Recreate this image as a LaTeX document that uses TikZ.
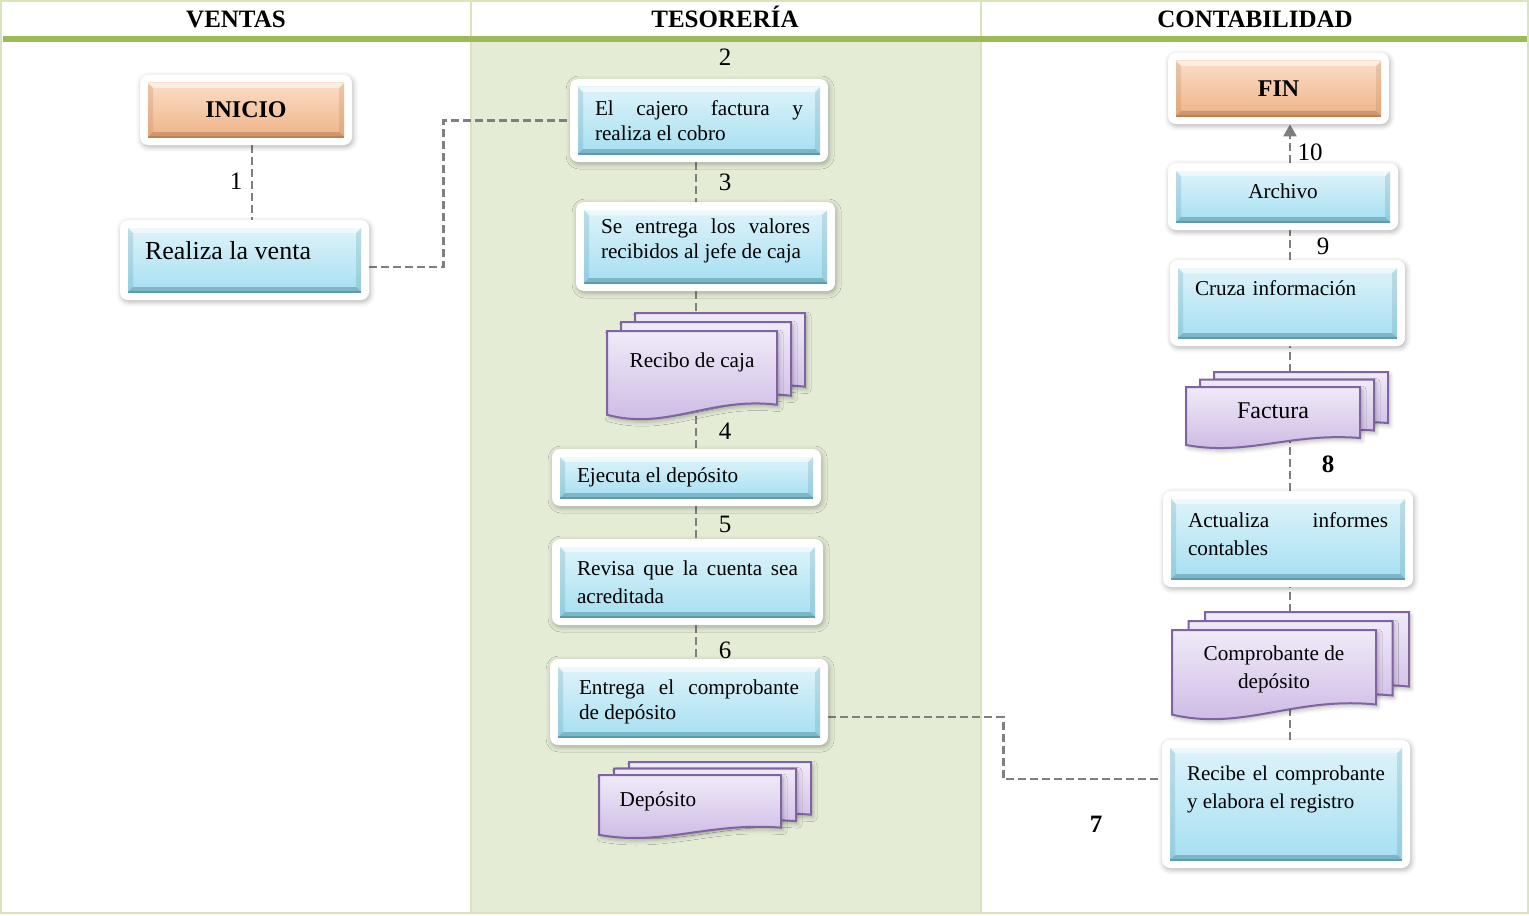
\documentclass[tikz,border=0pt]{standalone}
\usepackage{fontspec}
\setmainfont{Liberation Serif}
\usetikzlibrary{calc, arrows.meta, shadows.blur}

\definecolor{lanegreen}{HTML}{9BBB59}
\definecolor{laneline}{HTML}{D8E4BC}
\definecolor{lanefill}{HTML}{E4ECD6}
\definecolor{procTop}{HTML}{DDF3FA}
\definecolor{procBot}{HTML}{A6DFF1}
\definecolor{procEdge}{HTML}{5E9BAE}
\definecolor{termTop}{HTML}{FADDC7}
\definecolor{termBot}{HTML}{EFB488}
\definecolor{termEdge}{HTML}{BC8257}
\definecolor{docTop}{HTML}{F0EAF8}
\definecolor{docBot}{HTML}{CAB6E2}
\definecolor{docEdge}{HTML}{8064A2}
\definecolor{linkgray}{HTML}{7F7F7F}

\pgfdeclarelayer{background}
\pgfsetlayers{background,main}

% no hyphens inside the boxes
\hyphenpenalty=10000
\exhyphenpenalty=10000

% one sheet with a wavy bottom: x, y (top left), width, height
\newcommand\docsheet[4]{%
  \draw [sheet] ({#1},{#2}) -- ({#1+#3},{#2}) -- ({#1+#3},{#2+0.81*#4})
    .. controls ({#1+0.6*#3},{#2+0.72*#4}) and ({#1+0.35*#3},{#2+1.1*#4}) .. ({#1},{#2+0.92*#4}) -- cycle;}

% three sheets stacked: [text options] name, x, y, width, height, dx, dy, text
\newcommand\docstack[9][]{%
  \docsheet{#3+2*#7}{#4-2*#8}{#5}{#6}
  \docsheet{#3+#7}{#4-#8}{#5}{#6}
  \docsheet{#3}{#4}{#5}{#6}
  \node [inner sep=0, minimum width={(#5+2*#7)*0.5pt}, minimum height={(#6+2*#8)*0.5pt}]
    (#2) at ({#3+#5/2+#7},{#4+#6/2-#8}) {};
  \node [doctext, #1] (#2-t) at ({#3+#5/2},{#4+0.35*#6}) {#9};}

\begin{document}
\begin{tikzpicture}[
    x=0.5pt, y=-0.5pt,
    font=\fontsize{10.6}{12.5}\selectfont,
    base/.style={rectangle, rounded corners=4pt, fill=white, inner xsep=12.5pt, inner ysep=4pt,
      blur shadow={shadow xshift=0.6pt, shadow yshift=-1pt, shadow blur radius=2.5pt, shadow opacity=30}},
    bevel/.style n args={3}{path picture={
      \begin{scope}[sharp corners]
        \coordinate (bv-a) at ([shift={(4pt,4pt)}]path picture bounding box.south west);
        \coordinate (bv-b) at ([shift={(-4pt,-4pt)}]path picture bounding box.north east);
        \coordinate (bv-c) at (bv-a -| bv-b);
        \coordinate (bv-d) at (bv-a |- bv-b);
        \shade [top color=#1, bottom color=#2] (bv-a) rectangle (bv-b);
        \fill [#3, opacity=.6] (bv-a) -- (bv-c) -- ([shift={(-2.5pt,2.5pt)}]bv-c) -- ([shift={(2.5pt,2.5pt)}]bv-a) -- cycle;
        \fill [#3, opacity=.25] (bv-a) -- ([shift={(2.5pt,2.5pt)}]bv-a) -- ([shift={(2.5pt,-2.5pt)}]bv-d) -- (bv-d) -- cycle;
        \fill [#3, opacity=.25] (bv-c) -- ([shift={(-2.5pt,2.5pt)}]bv-c) -- ([shift={(-2.5pt,-2.5pt)}]bv-b) -- (bv-b) -- cycle;
        \fill [white, opacity=.5] (bv-d) -- (bv-b) -- ([shift={(-2.5pt,-2.5pt)}]bv-b) -- ([shift={(2.5pt,-2.5pt)}]bv-d) -- cycle;
        \draw [#3, line width=0.6pt] (bv-a) -- (bv-c);
      \end{scope}}},
    proc/.style={base, bevel={procTop}{procBot}{procEdge}, align=justify},
    term/.style={base, bevel={termTop}{termBot}{termEdge}, font=\fontsize{12}{14}\selectfont\bfseries},
    loose/.style={font=\fontsize{10.6}{14}\selectfont},
    lift/.style={execute at end node={\endgraf\kern#1}},
    sheet/.style={draw=docEdge, line width=1pt, top color=docTop, bottom color=docBot,
      blur shadow={shadow xshift=1pt, shadow yshift=-1.5pt, shadow blur radius=2pt, shadow opacity=25}},
    doctext/.style={align=center},
    connector/.style={draw=linkgray, line width=1.3pt, dash pattern=on 4pt off 2pt},
    head/.style={font=\fontsize{12.5}{14}\selectfont\bfseries, text height=8.5pt, text depth=0pt},
    lbl/.style={font=\fontsize{12.5}{14}\selectfont},
    lblb/.style={font=\fontsize{12.5}{14}\selectfont\bfseries}
  ]
  \useasboundingbox (0,0) rectangle (1529,915);

  \node (hventas) [head] at (236,19) {VENTAS};
  \node (htesoreria) [head] at (725,19) {TESORERÍA};
  \node (hconta) [head] at (1255,19) {CONTABILIDAD};

  \coordinate (spineA) at (252,0);
  \coordinate (spineB) at (696,0);
  \coordinate (spineC) at (1290,0);

  % ventas
  \node (inicio) [term, minimum width=106pt, minimum height=35pt] at (246,110) {INICIO};
  \node (venta) [proc, text width=99.5pt, minimum height=40pt, font=\fontsize{13}{15}\selectfont, lift=9pt] at (244.5,260) {Realiza la venta};

  % tesoreria
  \node (cajero) [proc, text width=104pt, minimum height=41.5pt] at (699,120.5) {El cajero factura y realiza el cobro};
  \node (valores) [proc, text width=104.5pt, minimum height=44.5pt, lift=5.5pt] at (705.5,246.5) {Se entrega los valores recibidos al jefe de caja};
  \docstack{recibo}{607}{331}{170}{91}{14}{9}{Recibo de caja}
  \node (ejecuta) [proc, text width=109.5pt, minimum height=28.5pt] at (686.5,477.5) {Ejecuta el depósito};
  \node (revisa) [proc, loose, text width=110.5pt, minimum height=43pt] at (687.5,582) {Revisa que la cuenta sea acreditada};
  \node (entrega) [proc, text width=110pt, minimum width=139pt, minimum height=43pt] at (689,702) {Entrega el comprobante de depósito};
  \docstack[xshift=-16pt, yshift=-2pt]{deposito}{599}{775}{182}{65}{15}{6.5}{Depósito}

  % contabilidad
  \node (fin) [term, minimum width=110.5pt, minimum height=35.5pt] at (1278.5,88.5) {FIN};
  \node (archivo) [proc, align=center, text width=90pt, minimum height=33.5pt, lift=5pt] at (1283,196.5) {Archivo};
  \node (cruza) [proc, align=left, text width=92.5pt, minimum height=43pt, lift=15pt] at (1287.5,303) {Cruza información};
  \docstack[font=\fontsize{12}{14}\selectfont, yshift=-1pt]{factura}{1186}{387}{174}{63}{14}{7.5}{Factura}
  \node (actualiza) [proc, loose, text width=100pt, minimum height=48pt, lift=5pt] at (1288,539) {Actualiza informes contables};
  \docstack[loose, yshift=-3.5pt]{comprobante}{1172}{630}{204}{92}{16.5}{9}{Comprobante de\\depósito}
  \node (recibe) [proc, font=\fontsize{10.5}{14}\selectfont, text width=99pt, minimum height=64pt, lift=14.5pt] at (1286,804) {Recibe el comprobante y elabora el registro};

  % step numbers
  \node (n1) [lbl] at (236,181) {1};
  \node (n2) [lbl] at (725,57) {2};
  \node (n3) [lbl] at (725,182) {3};
  \node (n4) [lbl] at (725,431) {4};
  \node (n5) [lbl] at (725,524) {5};
  \node (n6) [lbl] at (725,650) {6};
  \node (n7) [lblb] at (1096,824) {7};
  \node (n8) [lblb] at (1328,464) {8};
  \node (n9) [lbl] at (1323,246) {9};
  \node (n10) [lbl] at (1310,152) {10};

  % lanes, then connectors on top of them, all behind the boxes
  \begin{pgfonlayer}{background}
    \fill [lanefill] (471,41) rectangle (981,913);
    \draw [laneline, line width=1pt] (1,1) rectangle (1528,913);
    \draw [laneline, line width=1pt] (471,1) -- (471,913) (981,1) -- (981,913);
    \fill [lanegreen] (3,36) rectangle (1527,42);

    \draw [connector] (inicio.south -| spineA) -- (venta.north -| spineA);
    \draw [connector] ([yshift=-3.5pt]venta.east) -- ++(74,0) |- (cajero.west);
    \draw [connector] (cajero.south -| spineB) -- (valores.north -| spineB);
    \draw [connector] (valores.south -| spineB) -- (recibo.north -| spineB);
    \draw [connector] (recibo.center -| spineB) -- (ejecuta.north -| spineB);
    \draw [connector] (ejecuta.south -| spineB) -- (revisa.north -| spineB);
    \draw [connector] (revisa.south -| spineB) -- (entrega.north -| spineB);
    \draw [connector] ([yshift=-7.5pt]entrega.east) -- ++(175,0) |- ([yshift=12.5pt]recibe.west);
    \draw [connector] (recibe.north -| spineC) -- (comprobante.center -| spineC);
    \draw [connector] (comprobante.north -| spineC) -- (actualiza.south -| spineC);
    \draw [connector] (actualiza.north -| spineC) -- (factura.center -| spineC);
    \draw [connector] (factura.north -| spineC) -- (cruza.south -| spineC);
    \draw [connector] (cruza.north -| spineC) -- (archivo.south -| spineC);
    \draw [connector, -{Triangle[length=6pt, width=6.5pt]}] (archivo.north -| spineC) -- (fin.south -| spineC);
  \end{pgfonlayer}
\end{tikzpicture}
\end{document}
